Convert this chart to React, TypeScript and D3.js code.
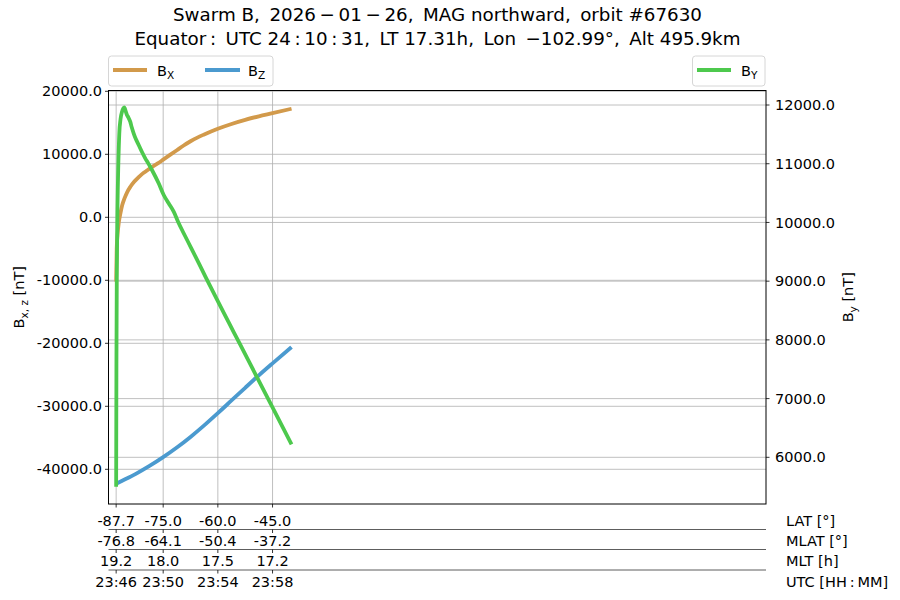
import React from 'react';
import * as d3 from 'd3';

// time in minutes after 23:46:00 UTC
const BX_T = [0.56, 0.6, 0.66, 0.76, 0.88, 1.0, 1.17, 1.37, 1.6, 1.86, 2.1, 2.35, 2.6, 2.83, 3.2, 3.6, 4.0, 4.5, 5.0, 5.5, 6.0, 6.5, 7.0, 7.5, 8.0, 9.0, 10.0, 11.0, 12.0, 13.39];
const BX_V = [-10200, -5000, -2800, -740, 700, 1900, 3000, 4010, 4850, 5600, 6150, 6660, 7100, 7450, 8000, 8550, 9150, 9900, 10650, 11400, 12070, 12650, 13150, 13620, 14060, 14820, 15470, 16020, 16520, 17230];

const BZ_T = [0.56, 1.0, 2.0, 3.0, 4.0, 5.0, 6.0, 7.0, 8.0, 9.0, 10.0, 11.0, 12.0, 13.39];
const BZ_V = [-42300, -41825, -40725, -39475, -38075, -36545, -34865, -33035, -31085, -29075, -27065, -25085, -23185, -20600];

const BY_T = [0.56, 0.58, 0.61, 0.66, 0.72, 0.79, 0.88, 0.99, 1.08, 1.16, 1.25, 1.35, 1.45, 1.59, 1.7, 1.84, 2.0, 2.21, 2.45, 2.69, 2.9, 3.18, 3.67, 4.04, 4.4, 4.77, 5.14, 5.5, 6.06, 7.0, 7.95, 8.88, 9.61, 10.83, 11.98, 13.39];
const BY_V = [5500, 7600, 9200, 10300, 11000, 11518, 11760, 11886, 11940, 11961, 11900, 11830, 11790, 11716, 11620, 11518, 11420, 11319, 11200, 11092, 11010, 10893, 10667, 10467, 10326, 10183, 9986, 9816, 9560, 9120, 8680, 8260, 7930, 7380, 6860, 6220];

const TICK_T = [0.56, 4, 8, 12];
const LAT = ['-87.7', '-75.0', '-60.0', '-45.0'];
const MLAT = ['-76.8', '-64.1', '-50.4', '-37.2'];
const MLT = ['19.2', '18.0', '17.5', '17.2'];
const UTC = ['23:46', '23:50', '23:54', '23:58'];
const ROW_LABELS = ['LAT [°]', 'MLAT [°]', 'MLT [h]', 'UTC [HH\u2009:\u2009MM]'];

const LEFT_TICKS = [20000, 10000, 0, -10000, -20000, -30000, -40000];
const RIGHT_TICKS = [12000, 11000, 10000, 9000, 8000, 7000, 6000];

const TITLE1 = 'Swarm B,\u2009 2026\u2009\u2212\u200901\u2009\u2212\u200926,\u2009 MAG northward,\u2009 orbit #67630';
const TITLE2 = 'Equator\u2009:\u2009 UTC 24\u2009:\u200910\u2009:\u200931,\u2009 LT 17.31h,\u2009 Lon \u2009\u2212102.99°,\u2009 Alt 495.9km';

const C_BX = '#d29a4b';
const C_BZ = '#4b9acf';
const C_BY = '#4dc94d';

const FONT = "'DejaVu Sans', sans-serif";

export default function App() {
  const L = 108.5, R = 766, T = 90.5, B = 504;
  const x = d3.scaleLinear().domain([0, 48.1]).range([L, R]);
  const yL = d3.scaleLinear().domain([-45508, 20127]).range([B, T]);
  const yR = d3.scaleLinear().domain([5205, 12247]).range([B, T]);

  const mk = (ts: number[], vs: number[], y: d3.ScaleLinear<number, number>) =>
    d3.line<number>().x((_, i) => x(ts[i])).y((v) => y(v)).curve(d3.curveMonotoneX)(vs) || '';

  const rows = [LAT, MLAT, MLT, UTC];
  const rowBase = [526, 546, 566, 587];
  const seps = [529.5, 549.5, 570];
  const fs = 14.5;

  return (
    <div style={{ position: 'absolute', left: 0, top: 0 }}>
      <svg width={900} height={600} style={{ display: 'block', background: '#fff' }} fontFamily={FONT}>
        {/* title */}
        <text x={437.5} y={21} textAnchor="middle" fontSize={18.3} style={{ whiteSpace: 'pre' }}>{TITLE1}</text>
        <text x={437.5} y={45} textAnchor="middle" fontSize={18.3} style={{ whiteSpace: 'pre' }}>{TITLE2}</text>

        {/* grid */}
        <g stroke="#b0b0b0" strokeWidth={0.8}>
          {TICK_T.map((t, i) => <line key={'gx' + i} x1={x(t)} x2={x(t)} y1={T} y2={B} />)}
          {LEFT_TICKS.map((v, i) => <line key={'gl' + i} x1={L} x2={R} y1={yL(v)} y2={yL(v)} />)}
          {RIGHT_TICKS.map((v, i) => <line key={'gr' + i} x1={L} x2={R} y1={yR(v)} y2={yR(v)} />)}
        </g>

        {/* lines */}
        <g fill="none" strokeWidth={3.8} strokeLinejoin="round">
          <path d={mk(BX_T, BX_V, yL)} stroke={C_BX} />
          <path d={mk(BZ_T, BZ_V, yL)} stroke={C_BZ} />
          <path d={mk(BY_T, BY_V, yR)} stroke={C_BY} />
        </g>

        {/* frame */}
        <rect x={L} y={T} width={R - L} height={B - T} fill="none" stroke="#000" strokeWidth={1} />

        {/* left axis */}
        {LEFT_TICKS.map((v, i) => (
          <g key={'lt' + i}>
            <line x1={L - 3.5} x2={L} y1={yL(v)} y2={yL(v)} stroke="#000" strokeWidth={0.8} />
            <text x={L - 6.5} y={yL(v)} dy="0.35em" textAnchor="end" fontSize={fs}>{(v < 0 ? '-' : '') + Math.abs(v).toFixed(1)}</text>
          </g>
        ))}
        {/* right axis */}
        {RIGHT_TICKS.map((v, i) => (
          <g key={'rt' + i}>
            <line x1={R} x2={R + 3.5} y1={yR(v)} y2={yR(v)} stroke="#000" strokeWidth={0.8} />
            <text x={R + 9} y={yR(v)} dy="0.35em" textAnchor="start" fontSize={fs}>{v.toFixed(1)}</text>
          </g>
        ))}

        {/* axis labels */}
        <text transform={`translate(24,${(T + B) / 2}) rotate(-90)`} textAnchor="middle" fontSize={fs}>
          B<tspan fontSize={10.5} dy={3.5}>x, z</tspan><tspan dy={-3.5}> [nT]</tspan>
        </text>
        <text transform={`translate(853,${(T + B) / 2}) rotate(-90)`} textAnchor="middle" fontSize={fs}>
          B<tspan fontSize={10.5} dy={3.5}>y</tspan><tspan dy={-3.5}> [nT]</tspan>
        </text>

        {/* legends */}
        <rect x={108.5} y={56} width={164.5} height={30} rx={3} fill="#fff" fillOpacity={0.8} stroke="#d6d6d6" strokeWidth={1} />
        <line x1={113} x2={147} y1={70} y2={70} stroke={C_BX} strokeWidth={4} />
        <text x={157} y={76} fontSize={fs}>B<tspan fontSize={10.5} dy={2.5}>X</tspan></text>
        <line x1={205} x2={240} y1={70} y2={70} stroke={C_BZ} strokeWidth={4} />
        <text x={248} y={76} fontSize={fs}>B<tspan fontSize={10.5} dy={2.5}>Z</tspan></text>

        <rect x={692.5} y={56} width={72.5} height={30} rx={3} fill="#fff" fillOpacity={0.8} stroke="#d6d6d6" strokeWidth={1} />
        <line x1={697} x2={731} y1={70} y2={70} stroke={C_BY} strokeWidth={4} />
        <text x={741} y={76} fontSize={fs}>B<tspan fontSize={10.5} dy={2.5}>Y</tspan></text>

        {/* bottom table */}
        {seps.map((s, i) => <line key={'s' + i} x1={L} x2={R} y1={s} y2={s} stroke="#333" strokeWidth={0.8} />)}
        {[B, ...seps].map((s, r) => TICK_T.map((t, i) => (
          <line key={'tk' + r + '_' + i} x1={x(t)} x2={x(t)} y1={s} y2={s + 3.5} stroke="#000" strokeWidth={0.8} />
        )))}
        {rows.map((row, r) => row.map((lab, i) => (
          <text key={'rv' + r + '_' + i} x={x(TICK_T[i])} y={rowBase[r]} textAnchor="middle" fontSize={fs}>{lab}</text>
        )))}
        {ROW_LABELS.map((lab, r) => (
          <text key={'rl' + r} x={786} y={rowBase[r]} fontSize={fs} style={{ whiteSpace: 'pre' }}>{lab}</text>
        ))}
      </svg>
    </div>
  );
}
